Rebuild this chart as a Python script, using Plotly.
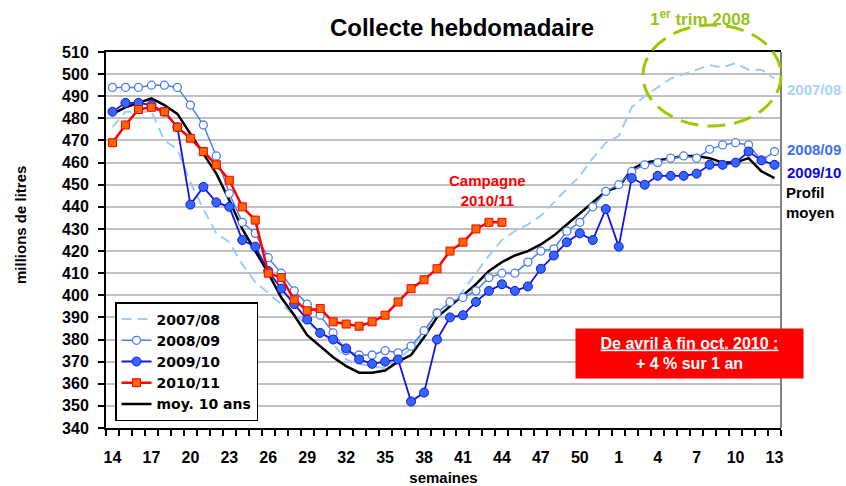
import plotly.graph_objects as go

weeks = ["14","15","16","17","18","19","20","21","22","23","24","25","26","27","28","29","30",
         "31","32","33","34","35","36","37","38","39","40","41","42","43","44","45","46","47",
         "48","49","50","51","52","1","2","3","4","5","6","7","8","9","10","11","12","13"]
tick_labels = ["14","17","20","23","26","29","32","35","38","41","44","47","50","1","4","7","10","13"]

s0708 = [476, 483, 483, 483, 470, 466, 451, 439, 428, 424, 414, 406,
         401, 396, 391, 387, 384, 378, 371, 369, 368,
         367, 371, 376, 383, 390, 396, 402, 410, 418, 425, 429,
         432, 436, 442, 448, 454, 462, 469, 472, 485, 490, 494,
         498, 500, 502, 504, 503, 505, 502, 502, 498]
s0809 = [494, 494, 494, 495, 495, 494, 486, 477, 463, 446, 433, 428,
         417, 410, 402, 396, 391, 383, 375, 373,
         373, 375, 374, 377, 384, 392, 397, 399, 402, 408, 410, 410,
         415, 420, 421, 429, 433, 440, 447, 450, 456, 459, 460,
         462, 463, 462, 466, 468, 469, 468, 461, 465]
s0910 = [483, 487, 487, 486, 483, 476, 441, 449, 442, 440, 425, 422,
         411, 403, 396, 389, 383, 380, 376, 371,
         369, 370, 371, 352, 356, 380, 390, 391, 397, 402, 405, 402,
         404, 412, 418, 424, 428, 425, 439, 422, 453, 450, 454,
         454, 454, 455, 459, 459, 460, 465, 461, 459]
s1011 = [469, 477, 484, 485, 483, 476, 471, 465, 459, 452, 440, 434,
         410, 408, 398, 393, 394, 388, 387, 386,
         388, 391, 397, 403, 407, 412, 420, 424, 430, 433, 433]
moy10 = [482, 485, 487, 489, 486, 482, 473, 464, 455, 443, 430, 420,
         410, 399, 391, 382, 377, 372, 368, 365, 365,
         366, 370, 373, 381, 390, 395, 400, 405, 411, 415, 418,
         420, 423, 427, 432, 437, 442, 447, 449, 457, 460, 461,
         462, 463, 463, 462, 460, 460, 462, 456, 453]

# category positions along the week axis
pos = list(range(len(weeks)))

W, H = 846, 486
L, R, T, B = 106, 781, 52, 428


def px(x):
    return (x - L) / (R - L)


def py(y):
    return (B - y) / (B - T)


FONT = "Liberation Sans, Arial, sans-serif"
LEGFONT = "DejaVu Sans, Liberation Sans, sans-serif"
fig = go.Figure()

fig.add_trace(go.Scatter(x=pos, y=s0708, name="2007/08", mode="lines", customdata=weeks,
                         line=dict(color="#99ccff", width=2, dash="10px,6px"), legendrank=1))
fig.add_trace(go.Scatter(x=pos, y=moy10, name="moy. 10 ans", mode="lines", customdata=weeks,
                         line=dict(color="black", width=2.5), legendrank=5))
fig.add_trace(go.Scatter(x=pos, y=s0809, name="2008/09", mode="lines+markers", customdata=weeks,
                         line=dict(color="#4a7ff0", width=1.5),
                         marker=dict(symbol="circle", size=8, color="white",
                                     line=dict(color="#4a7ff0", width=1.3)), legendrank=2))
fig.add_trace(go.Scatter(x=pos, y=s0910, name="2009/10", mode="lines+markers", customdata=weeks,
                         line=dict(color="#1414e6", width=1.8),
                         marker=dict(symbol="circle", size=9, color="#3366ff",
                                     line=dict(color="#1414e6", width=1)), legendrank=3))
fig.add_trace(go.Scatter(x=pos[:len(s1011)], y=s1011, name="2010/11", mode="lines+markers",
                         customdata=weeks[:len(s1011)],
                         line=dict(color="#ff0000", width=2.5),
                         marker=dict(symbol="square", size=8, color="#ff6600",
                                     line=dict(color="#ff0000", width=1)), legendrank=4))

tickvals = [i for i, w in enumerate(weeks) if w in tick_labels]
ticktext = [weeks[i] for i in tickvals]

fig.update_layout(
    width=W, height=H,
    margin=dict(l=L, r=W - R, t=T, b=H - B, autoexpand=False),
    paper_bgcolor="white", plot_bgcolor="white",
    font=dict(family=FONT, color="black"),
    title=dict(text="<b>Collecte hebdomadaire</b>", x=px(462), xref="paper", xanchor="center",
               y=1 - 28 / H, yanchor="middle", font=dict(size=24, color="black")),
    xaxis=dict(tickmode="array", tickvals=tickvals, ticktext=ticktext, tickangle=0,
               ticks="outside", ticklen=6, tickwidth=1, tickcolor="rgba(0,0,0,0)",
               minor=dict(tickmode="linear", tick0=-0.5, dtick=1, ticks="outside",
                          ticklen=6, tickwidth=1.5, tickcolor="black", showgrid=False),
               showline=True, linecolor="black", linewidth=2, mirror=True,
               showgrid=False, zeroline=False, range=[-0.5, len(weeks) - 0.5],
               tickfont=dict(size=16, family=FONT, weight="bold"),
               ticklabelstandoff=8,
               title=dict(text="<b>semaines</b>", font=dict(size=15), standoff=9)),
    yaxis=dict(range=[340, 510], dtick=10, tick0=340,
               ticks="outside", ticklen=6, tickwidth=1.5, tickcolor="black",
               showline=True, linecolor="black", linewidth=2,
               showgrid=True, gridcolor="#c0c0c0", gridwidth=1.5, zeroline=False,
               tickfont=dict(size=16, family=FONT, weight="bold"),
               ticklabelstandoff=6),
    legend=dict(x=px(115), y=py(421), xanchor="left", yanchor="bottom",
                bgcolor="white", bordercolor="black", borderwidth=1.5,
                font=dict(size=14, family=LEGFONT, weight="bold"),
                traceorder="normal", itemwidth=30, tracegroupgap=0),
    showlegend=True,
)

ann = []
ann.append(dict(text="<b>millions de litres</b>", xref="paper", yref="paper",
                x=px(20), y=py(225), textangle=-90, showarrow=False,
                font=dict(size=15, color="black"), xanchor="center", yanchor="middle"))
ann.append(dict(text="<b>2007/08</b>", xref="paper", yref="paper", x=px(785), y=py(89),
                xanchor="left", yanchor="middle", showarrow=False,
                font=dict(size=15, color="#a8d3f7")))
ann.append(dict(text="<b>2008/09</b>", xref="paper", yref="paper", x=px(785), y=py(149),
                xanchor="left", yanchor="middle", showarrow=False,
                font=dict(size=15, color="#3d6ff0")))
ann.append(dict(text="<b>2009/10</b>", xref="paper", yref="paper", x=px(785), y=py(172.5),
                xanchor="left", yanchor="middle", showarrow=False,
                font=dict(size=15, color="#0a0adc")))
ann.append(dict(text="<b>Profil<br>moyen</b>", xref="paper", yref="paper", x=px(784), y=py(202),
                xanchor="left", yanchor="middle", align="left", showarrow=False,
                font=dict(size=15, color="black")))
ann.append(dict(text="<b>Campagne<br>2010/11</b>", xref="paper", yref="paper", x=px(487), y=py(190.5),
                xanchor="center", yanchor="middle", align="center", showarrow=False,
                font=dict(size=15, color="#ff0000")))
ann.append(dict(text="<b>1<sup>er</sup> trim 2008</b>", xref="paper", yref="paper", x=px(700), y=py(18),
                xanchor="center", yanchor="middle", showarrow=False,
                font=dict(size=17, color="#99c21a")))
ann.append(dict(text="<b><u>De avril à fin oct. 2010 :</u><br>+ 4 % sur 1 an</b>",
                xref="paper", yref="paper", x=px(689.5), y=py(353.5),
                xanchor="center", yanchor="middle", align="center", showarrow=False,
                bgcolor="#ff0000", width=221, height=43, borderpad=3,
                font=dict(size=16, color="white")))
fig.update_layout(annotations=ann)

fig.add_shape(type="line", xref="paper", yref="paper", x0=1, x1=1, y0=0, y1=1,
              line=dict(color="#808080", width=2))
fig.add_shape(type="circle", xref="paper", yref="paper",
              x0=px(643), x1=px(781), y0=py(126), y1=py(25),
              line=dict(color="#99cc00", width=3, dash="18px,9px"))

fig.write_html("out.html", config={"displayModeBar": False},
               post_script="document.body.style.margin='0px';")
